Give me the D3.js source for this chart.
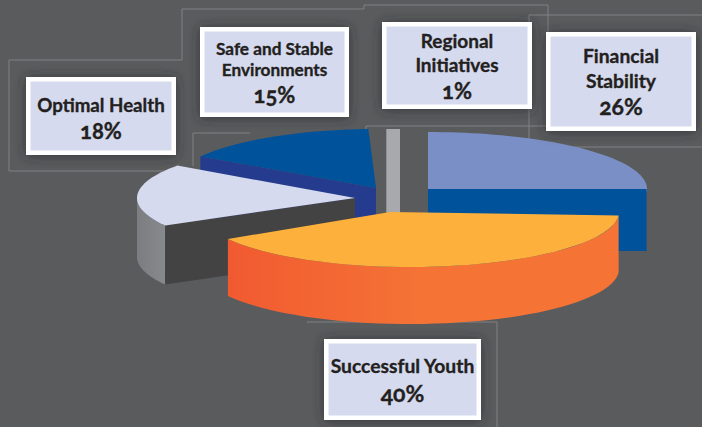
<!DOCTYPE html>
<html><head><meta charset="utf-8">
<script src="https://cdn.jsdelivr.net/npm/d3@7/dist/d3.min.js"></script>
<style>
html,body{margin:0;padding:0;background:#5a5b5d;overflow:hidden}
svg{display:block}
text{font-family:"Lato","Noto Sans",sans-serif;font-weight:700;fill:#231f20;stroke:#231f20;stroke-width:.35px;font-variant-numeric:oldstyle-nums;font-feature-settings:"onum"}
</style></head><body>
<script>
const categories=["Financial Stability","Successful Youth","Optimal Health","Safe and Stable Environments","Regional Initiatives"];
const shares=[26,40,18,15,1];
const labelLines=[["Financial","Stability"],["Successful Youth"],["Optimal Health"],["Safe and Stable","Environments"],["Regional","Initiatives"]];
const topColors=["#7a8fc5","#fdb03c","#d6daee","#00529b","#a7a9ac"];

// layout of exploded wedges: centre, radii, depth, apex shift, start/end angle shifts (degrees)
const wedgeLayout=[
 {cx:428,cy:189,rx:219,ry:57,d:62,apex:0,s0:0,s1:0},
 {cx:410,cy:212,rx:209,ry:55,d:57,apex:-20,s0:0,s1:3},
 {cx:355,cy:198,rx:218,ry:56,d:59,apex:0,s0:3,s1:3},
 {cx:376,cy:188,rx:208,ry:59,d:60,apex:0,s0:0,s1:1.5},
 {cx:400,cy:187,rx:218,ry:58,d:60,apex:0,s0:0,s1:0}
];
const boxLayout=[
 {x:546,y:32,w:150,h:99,fs:19.3,rows:[63,88],pctY:115,pctFs:23},
 {x:324,y:339,w:157,h:81,fs:19.3,rows:[373],pctY:402,pctFs:23},
 {x:26,y:77,w:150,h:78,fs:18.7,rows:[112],pctY:139,pctFs:22},
 {x:200,y:27,w:149,h:90,fs:17.2,rows:[55,76],pctY:103,pctFs:22},
 {x:382,y:22,w:150,h:87,fs:19,rows:[48,72],pctY:99,pctFs:22}
];
const guideLines=[
 [[178,171],[9,171],[9,60],[182,60],[182,9],[364,9],[364,5],[548,5],[548,128]],
 [[250,133],[193,133],[193,166]],
 [[366,133],[366,126],[548,126]],
 [[702,15],[529,15],[529,147],[702,147]],
 [[307,322],[497,322],[497,427]]
];

const W=702,H=427,TAU=Math.PI*2;
const svg=d3.select("body").append("svg").attr("width",W).attr("height",H);
const defs=svg.append("defs");
const f=defs.append("filter").attr("id","sh").attr("x","-20%").attr("y","-20%").attr("width","140%").attr("height","140%");
f.append("feDropShadow").attr("dx",0).attr("dy",1).attr("stdDeviation",6).attr("flood-color","#2b2b2d").attr("flood-opacity",0.75);
const g1=defs.append("linearGradient").attr("id","orange").attr("gradientUnits","userSpaceOnUse").attr("x1",228).attr("x2",420).attr("y1",0).attr("y2",0);
g1.append("stop").attr("offset",0).attr("stop-color","#f15a31");
g1.append("stop").attr("offset",1).attr("stop-color","#f47335");
const g2=defs.append("linearGradient").attr("id","gray").attr("x1",0).attr("x2",1).attr("y1",0).attr("y2",0);
g2.append("stop").attr("offset",0).attr("stop-color","#7c7d80");
g2.append("stop").attr("offset",1).attr("stop-color","#88898c");

svg.append("rect").attr("width",W).attr("height",H).attr("fill","#5a5b5d");

const lineGen=d3.line();
svg.append("g").selectAll("path").data(guideLines).join("path")
 .attr("d",d=>lineGen(d)).attr("fill","none").attr("stroke","#808285").attr("stroke-width",1);

const arcs=d3.pie().sort(null).value(d=>d).startAngle(0).endAngle(TAU)(shares);
function P(L,a,dz=0){return [L.cx+L.rx*Math.sin(a),L.cy-L.ry*Math.cos(a)+dz];}
function arcPts(L,a0,a1,dz=0){const n=48;return d3.range(n+1).map(i=>P(L,a0+(a1-a0)*i/n,dz));}
const A=i=>{const L=wedgeLayout[i],k=Math.PI/180;return {a0:arcs[i].startAngle+L.s0*k,a1:arcs[i].endAngle+L.s1*k};};
const closed=d3.line().curve(d3.curveLinearClosed);
const pieG=svg.append("g");
const apexOf=L=>[L.cx+L.apex,L.cy];
function topFace(i){const L=wedgeLayout[i],{a0,a1}=A(i);
 pieG.append("path").attr("d",closed([apexOf(L),...arcPts(L,a0,a1)])).attr("fill",topColors[i]);}
function cutFace(i,a,col){const L=wedgeLayout[i],p=P(L,a),c=apexOf(L);
 pieG.append("path").attr("d",closed([c,p,[p[0],p[1]+L.d],[c[0],c[1]+L.d]])).attr("fill",col);}
function sideFace(i,a0,a1,col){const L=wedgeLayout[i];
 pieG.append("path").attr("d",closed([...arcPts(L,a0,a1),...arcPts(L,a0,a1,L.d).reverse()])).attr("fill",col);}

// Financial Stability
{const i=0,L=wedgeLayout[i],{a0,a1}=A(i);topFace(i);
 const p=P(L,a1);
 pieG.append("rect").attr("x",L.cx).attr("y",L.cy).attr("width",p[0]-L.cx).attr("height",L.d).attr("fill","#00529b");}
// Regional Initiatives
{const i=4,L=wedgeLayout[i],{a0,a1}=A(i);
 const x0=P(L,a0)[0],x1=P(L,a1)[0];
 pieG.append("rect").attr("x",x0).attr("y",L.cy-L.ry).attr("width",x1-x0).attr("height",L.ry+L.d).attr("fill",topColors[i]);}
// Safe and Stable Environments
{const i=3,{a0,a1}=A(i);cutFace(i,a0,"#253b8e");topFace(i);}
// Optimal Health
{const i=2,{a0,a1}=A(i);sideFace(i,a0,Math.PI*1.5,"url(#gray)");cutFace(i,a0,"#434344");topFace(i);}
// Successful Youth
{const i=1,{a0,a1}=A(i);sideFace(i,Math.PI/2+0.06,a1,"url(#orange)");topFace(i);}

const boxes=svg.append("g").selectAll("g").data(categories).join("g");
boxes.append("rect").attr("x",(d,i)=>boxLayout[i].x).attr("y",(d,i)=>boxLayout[i].y)
 .attr("width",(d,i)=>boxLayout[i].w).attr("height",(d,i)=>boxLayout[i].h).attr("fill","#fff").attr("filter","url(#sh)");
boxes.append("rect").attr("x",(d,i)=>boxLayout[i].x+4.5).attr("y",(d,i)=>boxLayout[i].y+4.5)
 .attr("width",(d,i)=>boxLayout[i].w-9).attr("height",(d,i)=>boxLayout[i].h-9).attr("fill","#d6daee");
boxes.each(function(d,i){
 const B=boxLayout[i],g=d3.select(this),cx=B.x+B.w/2;
 labelLines[i].forEach((t,j)=>{
  g.append("text").attr("x",cx).attr("y",B.rows[j]).attr("text-anchor","middle")
   .attr("font-size",B.fs).text(t);
 });
 g.append("text").attr("x",cx).attr("y",B.pctY).attr("text-anchor","middle")
  .attr("font-size",B.pctFs).text(shares[i]+"%");
});
</script>
</body></html>
